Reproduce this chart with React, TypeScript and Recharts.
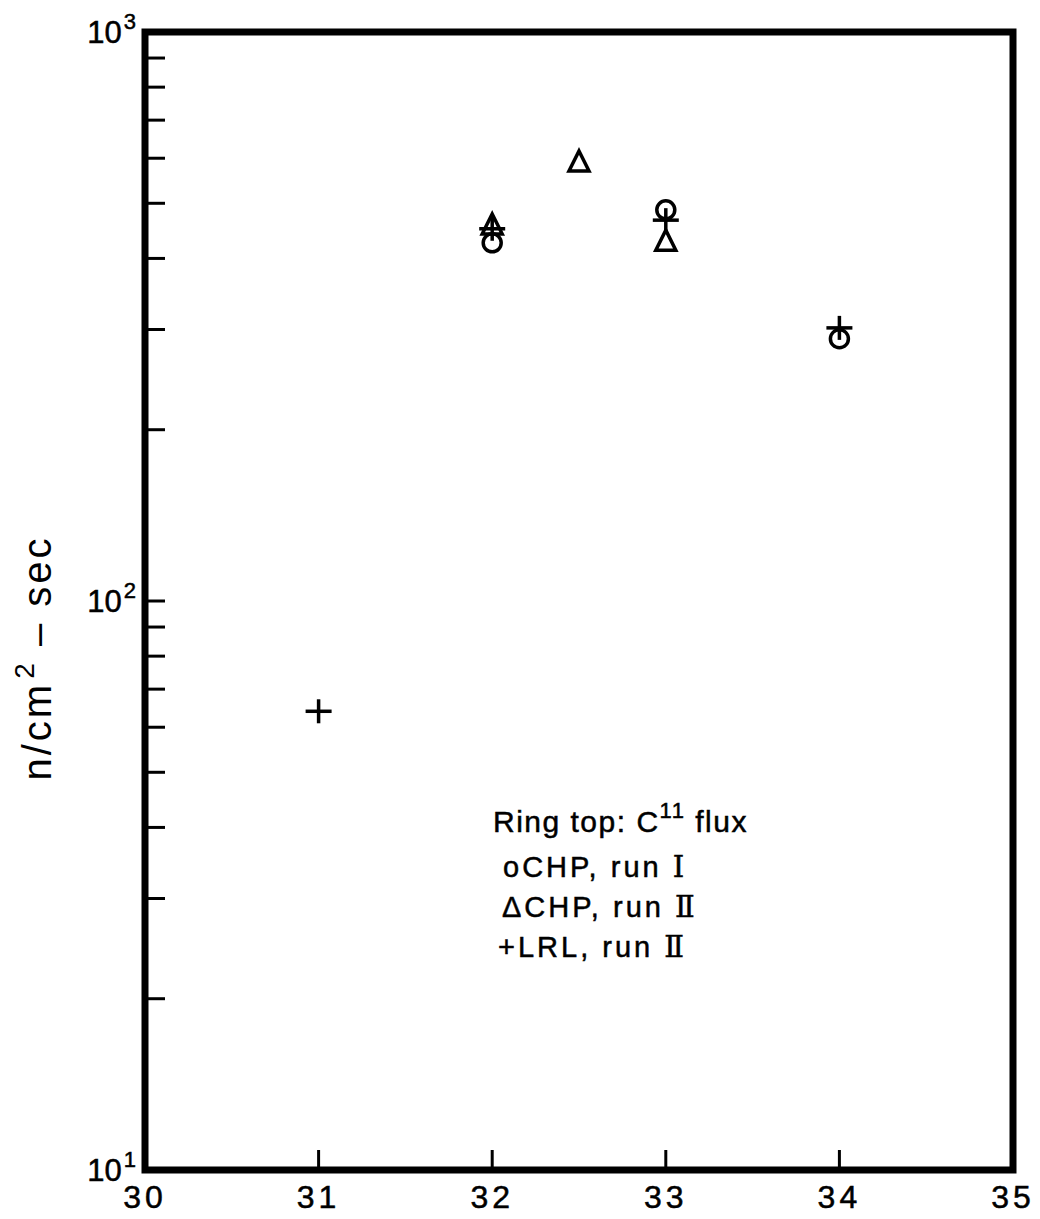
import React from 'react';
import { ScatterChart, Scatter, XAxis, YAxis, ReferenceArea } from 'recharts';

const xTicks = [30, 31, 32, 33, 34, 35];
const yTicks = [10, 20, 30, 40, 50, 60, 70, 80, 90, 100, 200, 300, 400, 500, 600, 700, 800, 900, 1000];
const decadeExp: Record<number, string> = { 10: '1', 100: '2', 1000: '3' };

const circleX = [32, 33, 34];
const circleY = [426, 487, 289];
const triangleX = [32, 32.5, 33];
const triangleY = [458, 591, 429];
const plusX = [31, 32, 33, 34];
const plusY = [64, 451, 467, 302];

const circleData = circleX.map((x, i) => ({ x, y: circleY[i] }));
const triangleData = triangleX.map((x, i) => ({ x, y: triangleY[i] }));
const plusData = plusX.map((x, i) => ({ x, y: plusY[i] }));

const FONT = '"Liberation Sans", "DejaVu Sans", sans-serif';
const SERIF = '"DejaVu Serif", "Liberation Serif", serif';

const CircleShape = (p: any) => (
  <circle cx={p.cx} cy={p.cy} r={9} fill="none" stroke="#000" strokeWidth={3.5} />
);
const TriangleShape = (p: any) => (
  <path
    d={`M${p.cx},${p.cy - 11} L${p.cx + 10},${p.cy + 9} L${p.cx - 10},${p.cy + 9} Z`}
    fill="none"
    stroke="#000"
    strokeWidth={3.5}
  />
);
const PlusShape = (p: any) => (
  <g stroke="#000" strokeWidth={3.5}>
    <line x1={p.cx - 13} x2={p.cx + 13} y1={p.cy} y2={p.cy} />
    <line x1={p.cx} x2={p.cx} y1={p.cy - 12} y2={p.cy + 12} />
  </g>
);

const XTick = (props: any) => {
  const { x, y, payload } = props;
  const v = payload.value;
  const inner = v !== 30 && v !== 35;
  return (
    <g>
      {inner && <line x1={x} x2={x} y1={y} y2={y - 20} stroke="#000" strokeWidth={3} />}
      <text
        x={x}
        y={y + 38}
        textAnchor="middle"
        fontFamily={FONT}
        fontSize={32}
        letterSpacing={4}
        fill="#000"
        stroke="#000"
        strokeWidth={0.5}
      >
        {v}
      </text>
    </g>
  );
};

const LeftTick = (props: any) => {
  const { x, y, payload } = props;
  const v = payload.value;
  const exp = decadeExp[v];
  const inner = v !== 10 && v !== 1000;
  return (
    <g>
      {inner && <line x1={x} x2={x + 20} y1={y} y2={y} stroke="#000" strokeWidth={3} />}
      {exp && (
        <text
          x={x - 9}
          y={y + 11}
          textAnchor="end"
          fontFamily={FONT}
          fontSize={31}
          fill="#000"
          stroke="#000"
          strokeWidth={0.5}
        >
          10
          <tspan dx={2} dy={-14} fontSize={22}>{exp}</tspan>
        </text>
      )}
    </g>
  );
};

const RightTick = (props: any) => {
  const { x, y, payload } = props;
  const v = payload.value;
  const inner = v !== 10 && v !== 1000;
  return <g>{inner && <line x1={x} x2={x - 22} y1={y} y2={y} stroke="#000" strokeWidth={3} />}</g>;
};

export default function App() {
  return (
    <div style={{ position: 'relative', width: 1032, height: 1211 }}>
      <ScatterChart width={1032} height={1211} margin={{ top: 24, right: 27, bottom: 9, left: 0 }}>
        <XAxis
          dataKey="x"
          type="number"
          domain={[30, 35]}
          ticks={xTicks}
          interval={0}
          height={40}
          tickSize={0}
          tickMargin={0}
          axisLine={false}
          tickLine={false}
          tick={<XTick />}
          allowDataOverflow
        />
        <YAxis
          dataKey="y"
          type="number"
          scale="log"
          domain={[10, 1000]}
          ticks={yTicks}
          interval={0}
          width={137}
          tickSize={0}
          tickMargin={0}
          axisLine={false}
          tickLine={false}
          tick={<LeftTick />}
          allowDataOverflow
        />
        <YAxis
          yAxisId="r"
          orientation="right"
          dataKey="y"
          type="number"
          scale="log"
          domain={[10, 1000]}
          ticks={yTicks}
          interval={0}
          width={0}
          tickSize={0}
          tickMargin={0}
          axisLine={false}
          tickLine={false}
          tick={<RightTick />}
          allowDataOverflow
        />
        <ReferenceArea x1={30} x2={35} y1={10} y2={1000} fill="none" fillOpacity={0} stroke="#000" strokeWidth={7} />
        <Scatter data={triangleData} shape={TriangleShape} isAnimationActive={false} />
        <Scatter data={circleData} shape={CircleShape} isAnimationActive={false} />
        <Scatter data={plusData} shape={PlusShape} isAnimationActive={false} />
        <Scatter yAxisId="r" data={plusData} shape={() => <g />} isAnimationActive={false} />
      </ScatterChart>
      <svg
        width={1032}
        height={1211}
        style={{ position: 'absolute', left: 0, top: 0, pointerEvents: 'none' }}
        fontFamily={FONT}
        fill="#000"
      >
        <text transform="translate(43,650) rotate(-90)" textAnchor="middle" fontSize={40} letterSpacing={3}>
          n/cm
          <tspan dx={3} dy={-17} fontSize={28}>2</tspan>
          <tspan dy={17}> – sec</tspan>
        </text>
        <g stroke="#000" strokeWidth={0.5}>
          <text x={485} y={824} fontSize={30} letterSpacing={1.5}>
            Ring top: C
            <tspan dy={-14} fontSize={22}>11</tspan>
            <tspan dy={14}> flux</tspan>
          </text>
          <text x={495} y={869} fontSize={29} letterSpacing={3}>
            oCHP, run <tspan fontFamily={SERIF}>Ⅰ</tspan>
          </text>
          <text x={494} y={909} fontSize={29} letterSpacing={3}>
            ΔCHP, run <tspan fontFamily={SERIF}>Ⅱ</tspan>
          </text>
          <text x={490} y={949} fontSize={29} letterSpacing={3}>
            +LRL, run <tspan fontFamily={SERIF}>Ⅱ</tspan>
          </text>
        </g>
      </svg>
    </div>
  );
}
